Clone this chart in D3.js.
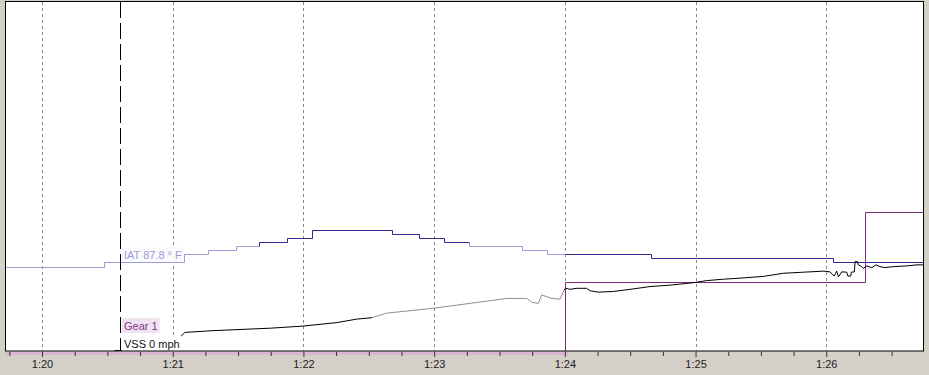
<!DOCTYPE html>
<html>
<head>
<meta charset="utf-8">
<script src="https://cdnjs.cloudflare.com/ajax/libs/d3/7.8.5/d3.min.js"></script>
<style>
body { margin: 0; background: #d4d0c8; overflow: hidden; }
svg { display: block; font-family: "Liberation Sans", Arial, sans-serif; }
</style>
</head>
<body>
<script>
"use strict";
// all times are seconds after 1:20:00
const startSec = -17, endSec = 404.4;
const cursorSec = 35.8;
const majorTicks = [0, 60, 120, 180, 240, 300, 360];
const tickLabels = ["1:20", "1:21", "1:22", "1:23", "1:24", "1:25", "1:26"];

// IAT in deg F, stepped
const iatTime = [-17, 28.5, 65.2, 76.1, 89.1, 99.8, 112.6, 123.8, 160.5, 173.2, 184.5, 196.2, 220.2, 232.0, 279.4, 363.1];
const iatValue = [86.0, 87.8, 91.4, 93.2, 95.0, 96.8, 98.6, 102.2, 100.4, 98.6, 96.8, 95.0, 93.2, 91.4, 89.6, 87.8];
const iatFaded = [[-17, 99.8], [196.2, 240]];

// gear, stepped
const gearTime = [-17, 240, 378];
const gearValue = [1, 2, 3];

// vehicle speed in mph (null = no sample)
const vssTime = [-17, 32.6, 33.5, 41.8, 42.7, 62.4, 62.6, 62.9, 63.6, 65.6, 78.5, 104.7, 119.8, 135.3, 144.5, 151.4, 158.2, 179.6, 196.5, 213.3, 222.5, 224.8, 227.8, 229.4, 231.7, 234.0, 237.8, 239.6, 240.5, 242.4, 245.5, 250.0, 251.6, 255.4, 262.3, 269.9, 279.1, 288.3, 299.0, 305.1, 312.8, 320.4, 331.1, 340.3, 349.5, 358.7, 361.7, 363.6, 364.8, 365.6, 367.1, 369.4, 369.9, 371.2, 371.5, 372.9, 373.2, 374.3, 374.7, 376.3, 377.0, 378.6, 380.9, 382.8, 384.7, 387.0, 390.8, 397.0, 401.6, 404.4];
const vssValue = [0, 0, 0.4, 0.4, 0, 0, null, 3.6, 4.4, 5.6, 6.1, 6.8, 7.4, 8.4, 9.4, 9.8, 11.1, 12.5, 13.9, 15.3, 15.3, 14.2, 13.9, 16.3, 15.8, 15.3, 15.1, 17.7, 18.2, 17.9, 18.2, 18.2, 17.5, 17.1, 17.3, 17.9, 18.7, 19.1, 19.8, 20.4, 20.8, 21.1, 21.6, 22.5, 22.8, 23.1, 22.9, 21.7, 23.1, 21.5, 22.9, 22.8, 21.7, 21.7, 22.8, 22.9, 25.8, 25.8, 24.9, 24.4, 23.9, 24.6, 24.1, 24.9, 24.4, 24.1, 24.4, 24.6, 24.9, 24.9];
const vssFaded = [[151.4, 239.6]];

const W = 929, H = 375;
const plot = {left: 5, right: 923, top: 2, bottom: 351};

const x = d3.scaleLinear().domain([startSec, endSec]).range([plot.left, plot.right]);
const iatY = d3.scaleLinear().domain([49, 202]).range([plot.bottom, plot.top]);
const gearY = d3.scaleLinear().domain([1, 6]).range([plot.bottom + 1, plot.top]);
const vssY = d3.scaleLinear().domain([0, 100]).range([plot.bottom + 1, plot.top]);

const svg = d3.select("body").append("svg").attr("width", W).attr("height", H);
const defs = svg.append("defs");
defs.append("clipPath").attr("id", "plot-area").append("rect")
	.attr("x", plot.left).attr("y", plot.top).attr("width", plot.right - plot.left).attr("height", plot.bottom - plot.top);
defs.append("clipPath").attr("id", "below").append("rect")
	.attr("x", plot.left).attr("y", plot.bottom + 1).attr("width", plot.right - plot.left).attr("height", 4);

svg.append("rect")
	.attr("x", plot.left).attr("y", plot.top)
	.attr("width", plot.right - plot.left).attr("height", plot.bottom - plot.top)
	.attr("fill", "#fff");

// vertical dashed grid
svg.append("g").selectAll("line").data(majorTicks).enter().append("line")
	.attr("x1", d => Math.round(x(d)) + 0.5).attr("x2", d => Math.round(x(d)) + 0.5)
	.attr("y1", plot.top).attr("y2", plot.bottom)
	.attr("stroke", "#8a8a8a").attr("stroke-dasharray", "3,3");

const series = [
	{id: "vss", times: vssTime, values: vssValue, y: vssY, color: "#000", fadedColor: "#8e8e8e", faded: vssFaded, step: false,
		label: v => "VSS " + Math.round(v) + " mph", textColor: "#111", bg: "#fff"},
	{id: "gear", times: gearTime, values: gearValue, y: gearY, color: "#7a2a7a", faded: [], step: true,
		label: v => "Gear " + v, textColor: "#86348a", bg: "#efe3ef"},
	{id: "iat", times: iatTime, values: iatValue, y: iatY, color: "#2a2a92", fadedColor: "#9d9dd6", faded: iatFaded, step: true,
		label: v => "IAT " + v.toFixed(1) + " ° F", textColor: "#9a9ad2", bg: "#fafafe"}
];

function valueAt(s, t) {
	const i = Math.max(0, d3.bisectRight(s.times, t) - 1);
	if (s.step || i >= s.times.length - 1 || s.values[i + 1] === null || s.values[i] === null) return s.values[i];
	const f = (t - s.times[i]) / (s.times[i + 1] - s.times[i]);
	return s.values[i] + f * (s.values[i + 1] - s.values[i]);
}

// split the time span into solid and faded pieces
function pieces(faded) {
	let out = [], a = startSec;
	faded.forEach(r => {
		if (r[0] > a) out.push({r: [a, r[0]], faded: false});
		out.push({r: r, faded: true});
		a = r[1];
	});
	if (a < endSec) out.push({r: [a, endSec], faded: false});
	return out;
}

// points of one piece of a series
function piecePoints(s, a, b) {
	const out = [];
	if (s.step && a > startSec) out.push([a, valueAt(s, a - 1e-6)]);
	out.push([a, valueAt(s, a)]);
	s.times.forEach((t, i) => { if (t > a && t < b) out.push([t, s.values[i]]); });
	out.push([b, s.step ? valueAt(s, b - 1e-6) : valueAt(s, b)]);
	return out;
}

const lines = svg.append("g").attr("clip-path", "url(#plot-area)");
series.slice().reverse().forEach(s => {
	// stepped lines are snapped to the pixel grid so they stay sharp
	const snap = v => (s.step ? Math.round(v) + 0.5 : v);
	const line = d3.line().defined(d => d[1] !== null)
		.x(d => snap(x(d[0]))).y(d => snap(s.y(d[1])))
		.curve(s.step ? d3.curveStepAfter : d3.curveLinear);
	if (s.id === "gear") {
		// gear line under the axis shows as a light band
		svg.append("path").attr("d", line(piecePoints(s, startSec, endSec))).attr("fill", "none")
			.attr("stroke", "#d9b6d5").attr("stroke-width", 5)
			.attr("clip-path", "url(#below)");
	}
	pieces(s.faded).forEach(p => {
		lines.append("path").attr("d", line(piecePoints(s, p.r[0], p.r[1]))).attr("fill", "none")
			.attr("stroke", p.faded ? s.fadedColor : s.color).attr("stroke-width", 1);
	});
});

// cursor
const cx = Math.round(x(cursorSec)) + 0.5;
svg.append("line").attr("x1", cx).attr("x2", cx).attr("y1", plot.top).attr("y2", plot.bottom)
	.attr("stroke", "#000").attr("stroke-dasharray", "16,5");

// cursor labels, stacked bottom-up in series order so they do not overlap
const boxH = 15;
const labels = series.map((s, k) => {
	const v = valueAt(s, cursorSec);
	return {s: s, k: k, text: s.label(v), bottom: Math.min(Math.round(s.y(v)), plot.bottom)};
}).sort((a, b) => (Math.abs(b.bottom - a.bottom) < 5 ? a.k - b.k : b.bottom - a.bottom));
let prevTop = Infinity;
labels.forEach(l => {
	if (l.bottom > prevTop - 3) l.bottom = prevTop - 3;
	prevTop = l.bottom - boxH;
	const g = svg.append("g");
	const bg = g.append("rect").attr("fill", l.s.bg);
	const txt = g.append("text").attr("x", cx + 3.5).attr("y", l.bottom - 3)
		.attr("font-size", "11px").attr("fill", l.s.textColor).text(l.text);
	const w = txt.node().getComputedTextLength();
	bg.attr("x", cx + 1.5).attr("y", l.bottom - boxH).attr("width", w + 4).attr("height", boxH);
});

// frame
svg.append("rect")
	.attr("x", plot.left + 0.5).attr("y", plot.top - 0.5)
	.attr("width", plot.right - plot.left).attr("height", plot.bottom - plot.top + 0.5)
	.attr("fill", "none").attr("stroke", "#000");

// time axis
const minor = d3.range(-15, endSec, 15).filter(d => d % 60 !== 0);
const minorAxis = svg.append("g").attr("transform", "translate(0," + (plot.bottom + 1) + ")")
	.call(d3.axisBottom(x).tickValues(minor).tickSize(4).tickSizeOuter(0).tickFormat(""));
const axis = svg.append("g").attr("transform", "translate(0," + (plot.bottom + 1) + ")")
	.call(d3.axisBottom(x).tickValues(majorTicks).tickSize(5).tickSizeOuter(0).tickFormat((d, i) => tickLabels[i]));
[minorAxis, axis].forEach(a => {
	a.select(".domain").remove();
	a.selectAll(".tick line").attr("stroke", "#333");
});
axis.selectAll(".tick text").attr("font-family", "Liberation Sans, Arial, sans-serif")
	.attr("font-size", "11px").attr("fill", "#222").attr("y", 8);
</script>
</body>
</html>
